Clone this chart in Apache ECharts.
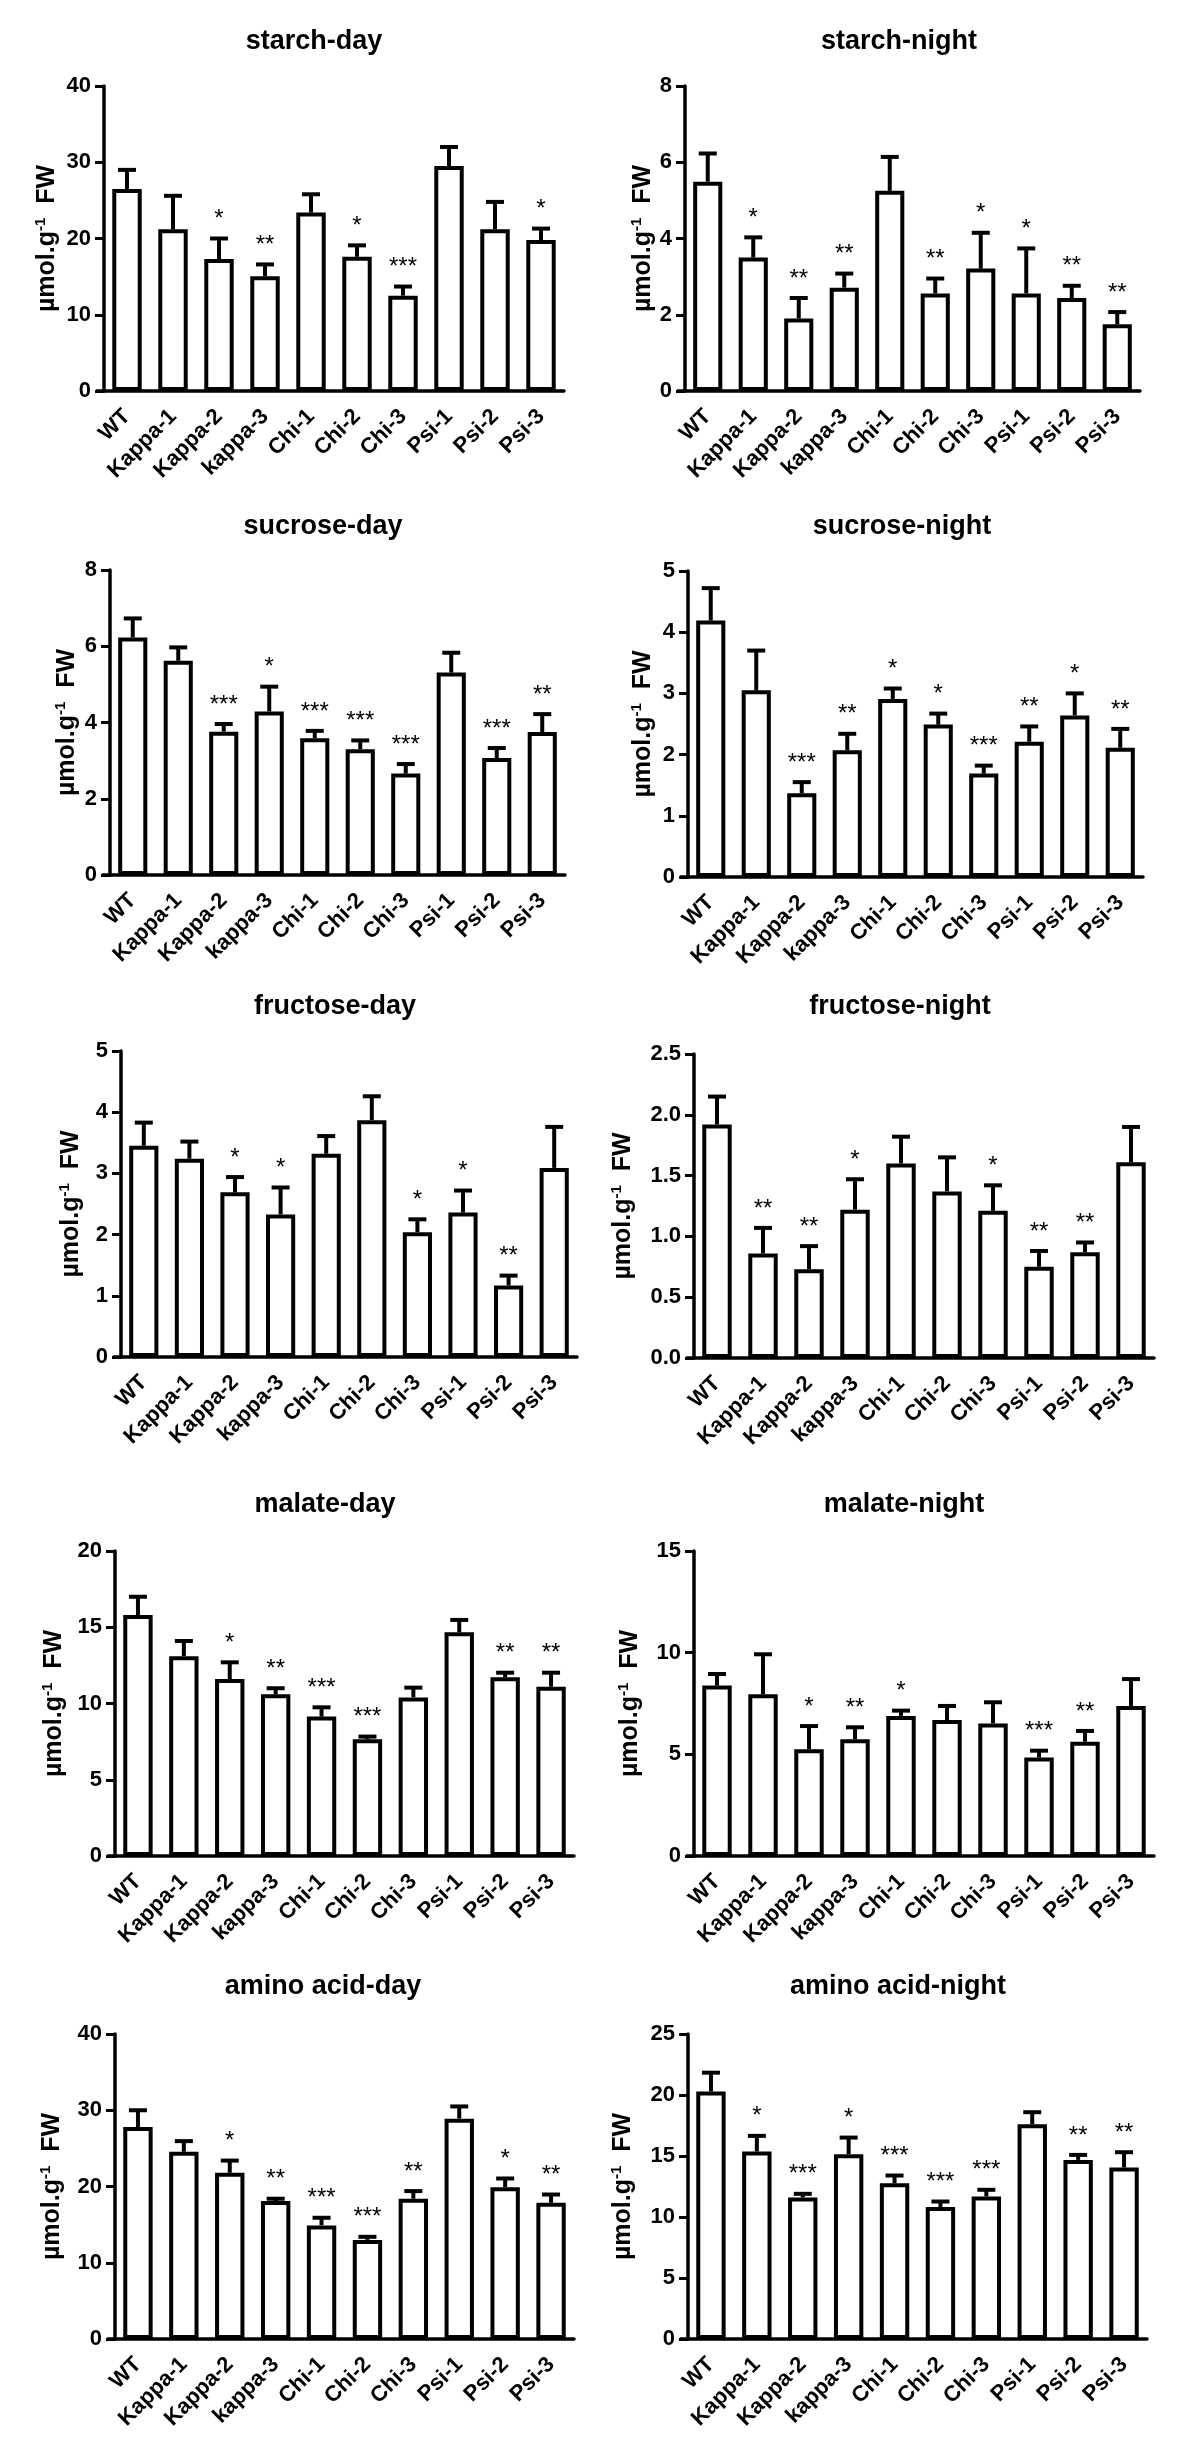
<!DOCTYPE html>
<html>
<head>
<meta charset="utf-8">
<script src="https://cdn.jsdelivr.net/npm/echarts@6/dist/echarts.min.js"></script>
<style>
html,body{margin:0;padding:0;background:#fff;}
#c{width:1200px;height:2460px;}
</style>
</head>
<body>
<div id="c"></div>
<script>
// ---------- DATA ----------
const categories = ['WT','Kappa-1','Kappa-2','kappa-3','Chi-1','Chi-2','Chi-3','Psi-1','Psi-2','Psi-3'];

const starchDay      = [26.5, 21.2, 17.3, 15.05, 23.4, 17.6, 12.5, 29.5, 21.2, 19.8];
const starchDayErr   = [2.5, 4.4, 2.7, 1.55, 2.4, 1.5, 1.2, 2.5, 3.6, 1.5];
const starchDaySig   = ['', '', '*', '**', '', '*', '***', '', '', '*'];

const starchNight    = [5.49, 3.50, 1.90, 2.71, 5.25, 2.56, 3.21, 2.56, 2.44, 1.75];
const starchNightErr = [0.74, 0.53, 0.54, 0.37, 0.89, 0.39, 0.94, 1.18, 0.32, 0.32];
const starchNightSig = ['', '*', '**', '**', '', '**', '*', '*', '**', '**'];

const sucroseDay      = [6.23, 5.62, 3.76, 4.29, 3.59, 3.30, 2.66, 5.31, 3.07, 3.75];
const sucroseDayErr   = [0.50, 0.35, 0.20, 0.65, 0.19, 0.23, 0.25, 0.52, 0.26, 0.47];
const sucroseDaySig   = ['', '', '***', '*', '***', '***', '***', '', '***', '**'];

const sucroseNight    = [4.19, 3.05, 1.37, 2.07, 2.91, 2.49, 1.69, 2.21, 2.64, 2.11];
const sucroseNightErr = [0.53, 0.65, 0.18, 0.27, 0.17, 0.18, 0.13, 0.25, 0.36, 0.31];
const sucroseNightSig = ['', '', '***', '**', '*', '*', '***', '**', '*', '**'];

const fructoseDay      = [3.45, 3.24, 2.69, 2.33, 3.32, 3.87, 2.04, 2.36, 1.17, 3.09];
const fructoseDayErr   = [0.38, 0.28, 0.25, 0.44, 0.29, 0.39, 0.21, 0.36, 0.16, 0.67];
const fructoseDaySig   = ['', '', '*', '*', '', '', '*', '*', '**', ''];

const fructoseNight    = [1.92, 0.86, 0.73, 1.22, 1.60, 1.37, 1.21, 0.75, 0.87, 1.61];
const fructoseNightErr = [0.23, 0.21, 0.19, 0.25, 0.22, 0.28, 0.21, 0.13, 0.08, 0.29];
const fructoseNightSig = ['', '**', '**', '*', '', '', '*', '**', '**', ''];

const malateDay      = [15.8, 13.1, 11.6, 10.6, 9.14, 7.65, 10.4, 14.67, 11.72, 11.10];
const malateDayErr   = [1.2, 1.0, 1.1, 0.4, 0.61, 0.18, 0.64, 0.81, 0.30, 0.92];
const malateDaySig   = ['', '', '*', '**', '***', '***', '', '', '**', '**'];

const malateNight    = [8.38, 7.95, 5.25, 5.74, 6.89, 6.69, 6.52, 4.84, 5.62, 7.38];
const malateNightErr = [0.57, 1.97, 1.14, 0.59, 0.26, 0.69, 1.04, 0.34, 0.53, 1.32];
const malateNightSig = ['', '', '*', '**', '*', '', '', '***', '**', ''];

const aminoDay      = [27.8, 24.55, 21.8, 18.1, 14.9, 13.0, 18.4, 28.9, 19.9, 17.86];
const aminoDayErr   = [2.2, 1.4, 1.6, 0.3, 1.0, 0.4, 1.0, 1.6, 1.15, 1.09];
const aminoDaySig   = ['', '', '*', '**', '***', '***', '**', '', '*', '**'];

const aminoNight    = [20.28, 15.37, 11.60, 15.15, 12.77, 10.81, 11.68, 17.60, 14.68, 14.06];
const aminoNightErr = [1.55, 1.28, 0.30, 1.36, 0.63, 0.46, 0.55, 0.99, 0.41, 1.25];
const aminoNightSig = ['', '*', '***', '*', '***', '***', '***', '', '**', '**'];

const titles = ['starch-day','starch-night','sucrose-day','sucrose-night','fructose-day','fructose-night','malate-day','malate-night','amino acid-day','amino acid-night'];
const yMax      = [40, 8, 8, 5, 5, 2.5, 20, 15, 40, 25];
const yInterval = [10, 2, 2, 1, 1, 0.5, 5, 5, 10, 5];
const yDecimals = [0, 0, 0, 0, 0, 1, 0, 0, 0, 0];

const valueSets = [starchDay, starchNight, sucroseDay, sucroseNight, fructoseDay, fructoseNight, malateDay, malateNight, aminoDay, aminoNight];
const errorSets = [starchDayErr, starchNightErr, sucroseDayErr, sucroseNightErr, fructoseDayErr, fructoseNightErr, malateDayErr, malateNightErr, aminoDayErr, aminoNightErr];
const sigSets   = [starchDaySig, starchNightSig, sucroseDaySig, sucroseNightSig, fructoseDaySig, fructoseNightSig, malateDaySig, malateNightSig, aminoDaySig, aminoNightSig];

// ---------- LAYOUT (pixels) ----------
// [gridLeft, gridTop, gridWidth, gridHeight, titleCenterX, titleCenterY, nameGap]
const layout = [
  [104,   86, 460, 305, 314,   42, 42],
  [685,   86, 455, 305, 899,   42, 27],
  [110,  570, 455, 305, 323,  527, 28],
  [688,  571, 455, 306, 902,  527, 30],
  [121, 1051, 456, 306, 335, 1007, 35],
  [694, 1054, 460, 304, 900, 1007, 56],
  [115, 1551, 459, 305, 325, 1505, 46],
  [694, 1551, 460, 305, 904, 1505, 49],
  [115, 2034, 459, 305, 323, 1987, 48],
  [688, 2034, 459, 305, 898, 1987, 50]
];

const FONT = '"Liberation Sans", Arial, sans-serif';
const BLACK = '#000';

const grids = [], xAxes = [], yAxes = [], series = [], graphics = [];

titles.forEach((t, i) => {
  const L = layout[i];
  grids.push({left: L[0], top: L[1], width: L[2], height: L[3], containLabel: false});
  graphics.push({
    type: 'text', x: L[4], y: L[5], silent: true,
    style: {text: t, font: 'bold 27px ' + FONT, fill: BLACK,
            textAlign: 'center', textVerticalAlign: 'middle', align: 'center', verticalAlign: 'middle'}
  });
  // short extension of the x-axis line to the left of the y-axis (GraphPad style)
  graphics.push({
    type: 'line', silent: true,
    shape: {x1: L[0] - 8, y1: L[1] + L[3], x2: L[0], y2: L[1] + L[3]},
    style: {stroke: BLACK, lineWidth: 3.5}
  });
  xAxes.push({
    type: 'category', gridIndex: i, data: categories,
    axisLine: {lineStyle: {color: BLACK, width: 3.5}},
    axisTick: {alignWithLabel: true, length: 10, lineStyle: {color: BLACK, width: 3}},
    axisLabel: {rotate: 45, interval: 0, margin: 22, color: BLACK, fontWeight: 'bold', fontSize: 22, fontFamily: FONT},
    splitLine: {show: false}
  });
  const dec = yDecimals[i];
  yAxes.push({
    type: 'value', gridIndex: i, min: 0, max: yMax[i], interval: yInterval[i],
    axisLine: {show: true, lineStyle: {color: BLACK, width: 3.5}},
    axisTick: {show: true, length: 9, lineStyle: {color: BLACK, width: 3}},
    axisLabel: {color: BLACK, fontWeight: 'bold', fontSize: 22, fontFamily: FONT, margin: 13,
                formatter: v => v.toFixed(dec)},
    splitLine: {show: false},
    name: '{a|\u00b5mol.g}{s|-1}{a|  FW}',
    nameLocation: 'middle', nameRotate: 90, nameGap: L[6],
    nameTextStyle: {
      color: BLACK, fontWeight: 'bold', fontSize: 25, fontFamily: FONT,
      rich: {
        a: {fontSize: 25, fontWeight: 'bold', fontFamily: FONT, color: BLACK, lineHeight: 29, verticalAlign: 'middle'},
        s: {fontSize: 15, fontWeight: 'bold', fontFamily: FONT, color: BLACK, lineHeight: 15, verticalAlign: 'top'}
      }
    }
  });
  const vals = valueSets[i], errs = errorSets[i], sigs = sigSets[i];
  series.push({
    type: 'bar', xAxisIndex: i, yAxisIndex: i, data: vals, barWidth: '64%',
    silent: true, animation: false,
    itemStyle: {color: '#fff', borderColor: BLACK, borderWidth: 4}
  });
  series.push({
    type: 'custom', xAxisIndex: i, yAxisIndex: i, silent: true, animation: false, z: 5,
    data: vals.map((v, k) => [k, v]),
    renderItem: function (params, api) {
      const k = params.dataIndex;
      const base = api.coord([k, vals[k]]);
      const top = api.coord([k, vals[k] + errs[k]]);
      const x = base[0];
      const children = [
        {type: 'line', shape: {x1: x, y1: base[1], x2: x, y2: top[1]}, style: {stroke: BLACK, lineWidth: 4}},
        {type: 'line', shape: {x1: x - 9, y1: top[1], x2: x + 9, y2: top[1]}, style: {stroke: BLACK, lineWidth: 4}}
      ];
      if (sigs[k]) {
        children.push({
          type: 'text', x: x, y: top[1] - 7,
          style: {text: sigs[k], font: '24px ' + FONT, fill: BLACK,
                  textAlign: 'center', textVerticalAlign: 'bottom', align: 'center', verticalAlign: 'bottom'}
        });
      }
      return {type: 'group', children: children};
    }
  });
});

const chart = echarts.init(document.getElementById('c'), null, {renderer: 'canvas'});
chart.setOption({
  backgroundColor: '#fff',
  animation: false,
  grid: grids,
  xAxis: xAxes,
  yAxis: yAxes,
  series: series,
  graphic: graphics
});
</script>
</body>
</html>
